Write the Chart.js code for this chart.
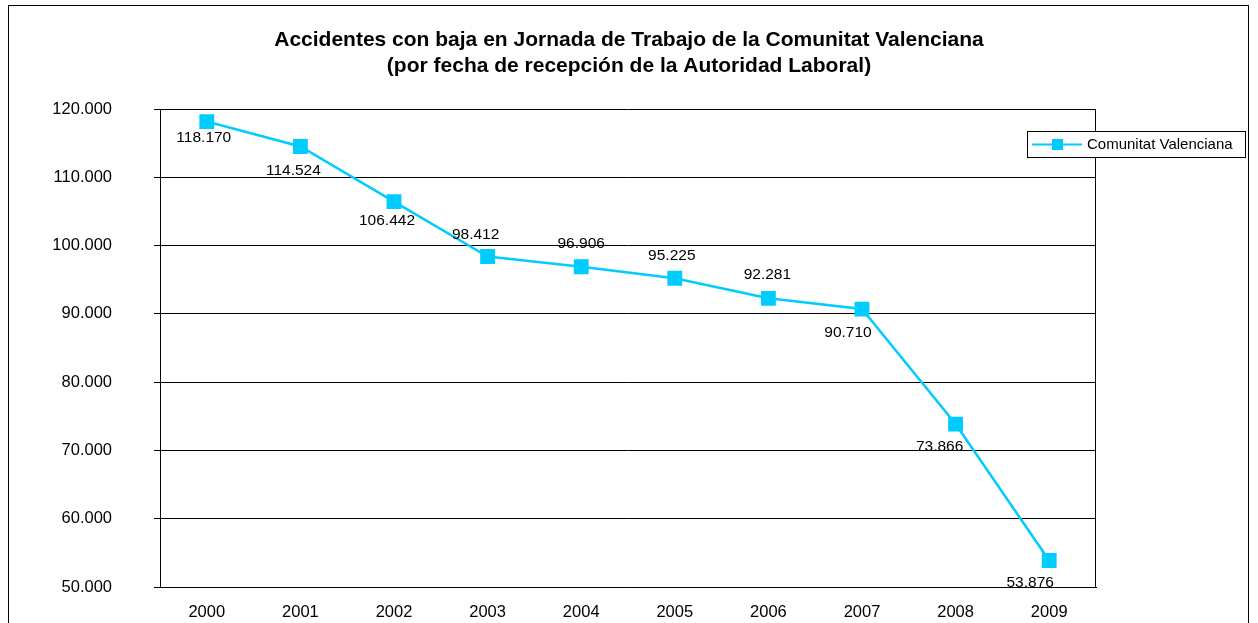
<!DOCTYPE html>
<html>
<head>
<meta charset="utf-8">
<script src="https://cdn.jsdelivr.net/npm/chart.js@4/dist/chart.umd.min.js"></script>
<style>
  html, body { margin: 0; padding: 0; background: #fff; overflow: hidden; }
  canvas { display: block; }
</style>
</head>
<body>
<canvas id="myChart" width="1258" height="623"></canvas>
<script>
// datos
const years = ['2000', '2001', '2002', '2003', '2004', '2005', '2006', '2007', '2008', '2009'];
const accidentes = [118170, 114524, 106442, 98412, 96906, 95225, 92281, 90710, 73866, 53876];
const serieNombre = 'Comunitat Valenciana';
const titulo = ['Accidentes con baja en Jornada de Trabajo de la Comunitat Valenciana',
                '(por fecha de recepción de la Autoridad Laboral)'];

const cyan = '#00CCFF';
const fontFam = '"Liberation Sans", Arial, sans-serif';

function miles(v) {
    return String(Math.round(v)).replace(/\B(?=(\d{3})+(?!\d))/g, '.');
}

// desplazamiento de cada etiqueta respecto a su punto (px)
const labelOffsets = [[-3, 16], [-7, 24], [-7, 19], [-12, -22], [0, -23],
                      [-3, -23], [-1, -24], [-14, 24], [-16, 23], [-19, 22]];

const extras = {
    id: 'extras',
    beforeDraw(chart) {
        const c = chart.ctx;
        c.save();
        c.fillStyle = '#fff';
        c.fillRect(0, 0, chart.width, chart.height);
        c.strokeStyle = '#000';
        c.lineWidth = 1;
        c.strokeRect(8.5, 5.5, 1240, 700);
        c.restore();
    },
    beforeDatasetsDraw(chart) {
        const a = chart.chartArea, c = chart.ctx;
        c.save();
        c.strokeStyle = '#000';
        c.lineWidth = 1;
        c.beginPath();
        c.moveTo(Math.round(a.right) - 0.5, a.top);
        c.lineTo(Math.round(a.right) - 0.5, a.bottom);
        c.stroke();
        c.restore();
    },
    afterDatasetsDraw(chart) {
        const c = chart.ctx;
        const meta = chart.getDatasetMeta(0);
        c.save();
        c.font = '15.5px ' + fontFam;
        c.fillStyle = '#000';
        c.textAlign = 'center';
        c.textBaseline = 'middle';
        meta.data.forEach((pt, i) => {
            const o = labelOffsets[i];
            c.fillText(miles(accidentes[i]), pt.x + o[0], pt.y + o[1]);
        });
        c.restore();
    },
    afterDraw(chart) {
        // leyenda
        const c = chart.ctx;
        const x = 1027, y = 131, w = 218, h = 26;
        c.save();
        c.fillStyle = '#fff';
        c.fillRect(x, y, w, h);
        c.strokeStyle = '#000';
        c.lineWidth = 1;
        c.strokeRect(x + 0.5, y + 0.5, w, h);
        c.strokeStyle = cyan;
        c.lineWidth = 2;
        c.beginPath();
        c.moveTo(x + 5, y + 13.5);
        c.lineTo(x + 55, y + 13.5);
        c.stroke();
        c.fillStyle = cyan;
        c.fillRect(x + 25, y + 8, 11, 11);
        c.fillStyle = '#000';
        c.font = '15px ' + fontFam;
        c.textBaseline = 'middle';
        c.fillText(serieNombre, x + 60, y + 14);
        c.restore();
    }
};

new Chart(document.getElementById('myChart'), {
    type: 'line',
    data: {
        labels: years,
        datasets: [{
            label: serieNombre,
            data: accidentes,
            borderColor: cyan,
            backgroundColor: cyan,
            borderWidth: 2.5,
            pointStyle: 'rect',
            pointRadius: 10.5,
            pointBorderWidth: 0,
            pointBackgroundColor: cyan,
            tension: 0
        }]
    },
    options: {
        responsive: false,
        animation: false,
        layout: { padding: 0 },
        plugins: {
            legend: { display: false },
            tooltip: { enabled: false },
            title: {
                display: true,
                text: titulo,
                color: '#000',
                font: { family: fontFam, size: 21, weight: 'bold', lineHeight: 1.24 },
                padding: { top: 27, bottom: 30 }
            }
        },
        scales: {
            x: {
                offset: true,
                grid: { display: false, drawTicks: false },
                border: { display: true, color: '#000', width: 1 },
                ticks: { color: '#000', padding: 16, font: { family: fontFam, size: 16.5 }, maxRotation: 0 },
                afterFit(s) { s.height = 36; }
            },
            y: {
                min: 50000,
                max: 120000,
                grid: { color: '#000', lineWidth: 1, tickLength: 6, drawTicks: true },
                border: { display: true, color: '#000', width: 1 },
                ticks: {
                    stepSize: 10000,
                    color: '#000',
                    padding: 42,
                    font: { family: fontFam, size: 16.5 },
                    callback: v => miles(v)
                },
                afterFit(s) {
                    s.width = 160;
                    s.paddingTop = 10;
                    s.paddingBottom = 10;
                }
            },
            // eje vacío a la derecha: deja sitio a la leyenda
            yRight: {
                position: 'right',
                display: true,
                grid: { display: false, drawTicks: false },
                border: { display: false },
                ticks: { display: false },
                afterFit(s) { s.width = 162; }
            }
        }
    },
    plugins: [extras]
});
</script>
</body>
</html>
